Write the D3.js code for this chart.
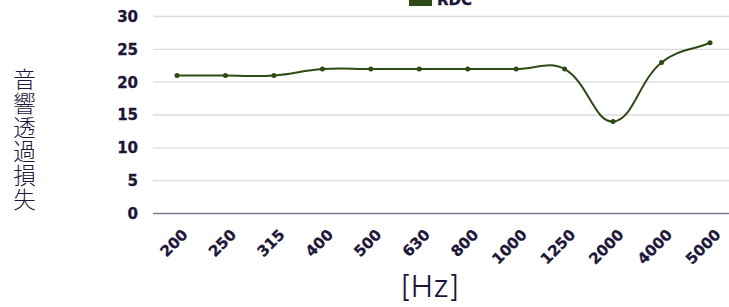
<!DOCTYPE html>
<html>
<head>
<meta charset="utf-8">
<script src="https://cdn.jsdelivr.net/npm/d3@7"></script>
<style>
  html, body { margin: 0; padding: 0; background: #fff; overflow: hidden; }
  svg { display: block; }
</style>
</head>
<body>
<div id="chart"></div>
<script>
// ── Data ──
const freqs = ['200', '250', '315', '400', '500', '630', '800', '1000', '1250', '2000', '4000', '5000'];
const rdc = [21, 21, 21, 22, 22, 22, 22, 22, 22, 14, 23, 26];
const yTicks = [0, 5, 10, 15, 20, 25, 30];
const seriesName = 'RDC';
const yTitle = '音響透過損失';
const xTitle = '[Hz]';

const W = 729, H = 307;
const lineColor = '#2e4a15';
const inkColor = '#1e1638';
const tickFont = '"DejaVu Sans", Inter, sans-serif';

const svg = d3.select('#chart').append('svg')
  .attr('width', W).attr('height', H);

// ── Scales ──
const x = d3.scalePoint().domain(freqs).range([177, 710]);
const y = d3.scaleLinear().domain([0, 30]).range([213.5, 16.5]);

// ── Grid ──
svg.append('g').selectAll('line').data(yTicks).join('line')
  .attr('x1', 153).attr('x2', W)
  .attr('y1', d => y(d)).attr('y2', d => y(d))
  .attr('stroke', d => d === 0 ? '#7f7d96' : '#dcdbe2')
  .attr('stroke-width', 1.3);

// ── Y axis labels ──
svg.append('g').selectAll('text').data(yTicks).join('text')
  .attr('x', 138).attr('y', d => y(d))
  .attr('dy', '0.36em')
  .attr('text-anchor', 'end')
  .attr('font-family', tickFont)
  .attr('font-weight', 'bold')
  .attr('font-size', 15)
  .attr('fill', inkColor)
  .style('stroke', inkColor).style('stroke-width', 0.3)
  .text(d => d);

// ── X axis labels ──
svg.append('g').selectAll('text').data(freqs).join('text')
  .attr('transform', d => 'translate(' + (x(d) + 4) + ',' + 228 + ') rotate(-45)')
  .attr('text-anchor', 'end')
  .attr('dy', '0.72em')
  .attr('font-family', tickFont)
  .attr('font-weight', 'bold')
  .attr('font-size', 15)
  .attr('fill', inkColor)
  .style('stroke', inkColor).style('stroke-width', 0.3)
  .text(d => d);

// ── Axis titles ──
svg.append('text')
  .attr('x', 24.5).attr('y', 68)
  .style('writing-mode', 'vertical-rl')
  .attr('letter-spacing', 1.6)
  .attr('font-family', '"Noto Sans CJK JP", sans-serif')
  .attr('font-weight', 300)
  .attr('font-size', 22.5)
  .attr('fill', inkColor)
  .text(yTitle);

svg.append('text')
  .attr('x', 430).attr('y', 297)
  .attr('text-anchor', 'middle')
  .attr('font-family', 'Inter, Lato, sans-serif')
  .attr('font-weight', 300)
  .attr('font-size', 30)
  .attr('fill', inkColor)
  .text(xTitle);

// ── Line (Chart.js style spline, tension 0.4) ──
const pts = freqs.map((f, i) => ({ x: x(f), y: y(rdc[i]) }));
function ctrl(p0, p1, p2, t) {
  const d01 = Math.hypot(p1.x - p0.x, p1.y - p0.y);
  const d12 = Math.hypot(p2.x - p1.x, p2.y - p1.y);
  const s01 = d01 + d12 ? d01 / (d01 + d12) : 0;
  const s12 = d01 + d12 ? d12 / (d01 + d12) : 0;
  const fa = t * s01, fb = t * s12;
  return {
    prev: { x: p1.x - fa * (p2.x - p0.x), y: p1.y - fa * (p2.y - p0.y) },
    next: { x: p1.x + fb * (p2.x - p0.x), y: p1.y + fb * (p2.y - p0.y) }
  };
}
const cps = pts.map((p, i) => ctrl(pts[i - 1] || p, p, pts[i + 1] || p, 0.4));
const path = d3.path();
path.moveTo(pts[0].x, pts[0].y);
for (let i = 1; i < pts.length; i++) {
  const a = cps[i - 1].next, b = cps[i].prev;
  path.bezierCurveTo(a.x, a.y, b.x, b.y, pts[i].x, pts[i].y);
}
svg.append('path')
  .attr('d', path.toString())
  .attr('fill', 'none')
  .attr('stroke', lineColor)
  .attr('stroke-width', 2);

svg.append('g').selectAll('circle').data(pts).join('circle')
  .attr('cx', d => d.x).attr('cy', d => d.y)
  .attr('r', 2.5)
  .attr('fill', lineColor);

// ── Legend (clipped at top) ──
svg.append('rect')
  .attr('x', 409).attr('y', -12)
  .attr('width', 23).attr('height', 18)
  .attr('fill', lineColor);
svg.append('text')
  .attr('x', 437).attr('y', 5)
  .attr('font-family', tickFont)
  .attr('font-weight', 'bold')
  .attr('font-size', 15)
  .attr('fill', inkColor)
  .style('stroke', inkColor).style('stroke-width', 0.3)
  .text(seriesName);
</script>
</body>
</html>
